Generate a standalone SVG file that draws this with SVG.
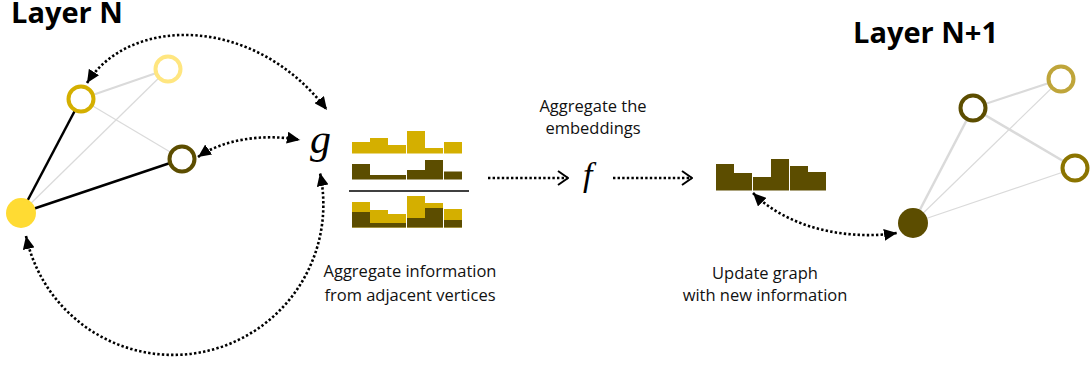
<svg xmlns="http://www.w3.org/2000/svg" width="1091" height="366" viewBox="0 0 1091 366">
<style>
.title{font-family:"Open Sans","DejaVu Sans",sans-serif;font-weight:700;font-size:29px;fill:#000}
.lbl{font-family:"Open Sans","DejaVu Sans",sans-serif;font-size:16.5px;fill:#111;text-anchor:middle}
.math{font-family:"Liberation Serif","DejaVu Serif",serif;font-style:italic;fill:#000}
.dot{fill:none;stroke:#000;stroke-width:2.6;stroke-dasharray:2.4 2.2}
.edgeB{stroke:#000;stroke-width:2.5}
.edgeG{stroke:#dadada;stroke-width:2}
.edgeT{stroke:#dadada;stroke-width:1.2}
.y{fill:#D4AF00}
.d{fill:#5C4D00}
</style>
<defs>
<marker id="tri" viewBox="0 0 13 12" refX="13" refY="6" markerWidth="13" markerHeight="12" markerUnits="userSpaceOnUse" orient="auto-start-reverse">
<path d="M0,0 L13,6 L0,12 z" fill="#000"/>
</marker>
<marker id="chev" viewBox="0 0 12 16" refX="11" refY="8" markerWidth="12" markerHeight="16" markerUnits="userSpaceOnUse" orient="auto">
<path d="M1,1 L11,8 L1,15" fill="none" stroke="#000" stroke-width="2"/>
</marker>
</defs>

<text class="title" x="11" y="23">Layer N</text>
<text class="title" x="853" y="43">Layer N+1</text>

<g id="edges-left">
<line class="edgeB" x1="21" y1="213" x2="81" y2="99"/>
<line class="edgeB" x1="21" y1="213" x2="182" y2="159"/>
<line class="edgeG" x1="81" y1="99" x2="168" y2="69"/>
<line class="edgeT" x1="81" y1="99" x2="182" y2="159"/>
<line class="edgeT" x1="21" y1="213" x2="168" y2="69"/>
</g>
<g id="node-self-N"><circle cx="21" cy="213" r="15" fill="#FFDB33"/></g>
<g id="node-a-N"><circle cx="81" cy="99" r="12.5" fill="#fff" stroke="#D4AF00" stroke-width="4"/></g>
<g id="node-b-N"><circle cx="168" cy="69" r="12.5" fill="#fff" stroke="#FFE680" stroke-width="4"/></g>
<g id="node-c-N"><circle cx="182" cy="159" r="12.5" fill="#fff" stroke="#5C4D00" stroke-width="4"/></g>

<g id="edges-right">
<line class="edgeG" x1="913" y1="223" x2="973" y2="108" style="stroke-width:2.5"/>
<line class="edgeG" x1="973" y1="108" x2="1061" y2="79"/>
<line class="edgeG" x1="973" y1="108" x2="1075" y2="168" style="stroke-width:2.5"/>
<line class="edgeT" x1="913" y1="223" x2="1061" y2="79"/>
<line class="edgeT" x1="913" y1="223" x2="1075" y2="168"/>
</g>
<g id="node-self-N1"><circle cx="913" cy="223" r="15" fill="#5C4D00"/></g>
<g id="node-d-N1"><circle cx="973" cy="108" r="12.5" fill="#fff" stroke="#5C4D00" stroke-width="4"/></g>
<g id="node-e-N1"><circle cx="1061" cy="79" r="12.5" fill="#fff" stroke="#BFA53A" stroke-width="4"/></g>
<g id="node-f-N1"><circle cx="1075" cy="168" r="12.5" fill="#fff" stroke="#8B7400" stroke-width="4"/></g>

<g id="g-func"><text class="math" x="310" y="153" font-size="42">g</text></g>
<g id="f-func"><text class="math" x="583" y="186" font-size="34">f</text></g>

<g id="bars-neighbors">
<rect class="y" x="352" y="142" width="18" height="11.5"/>
<rect class="y" x="370" y="138" width="18" height="15.5"/>
<rect class="y" x="388" y="145" width="18" height="8.5"/>
<rect class="y" x="407" y="131" width="18" height="22.5"/>
<rect class="y" x="425" y="148" width="18" height="5.5"/>
<rect class="y" x="444" y="142" width="18" height="11.5"/>

<rect class="d" x="352" y="164" width="18" height="15.5"/>
<rect class="d" x="370" y="175" width="18" height="4.5"/>
<rect class="d" x="388" y="175" width="18" height="4.5"/>
<rect class="d" x="407" y="170" width="18" height="9.5"/>
<rect class="d" x="425" y="160" width="18" height="19.5"/>
<rect class="d" x="444" y="171.5" width="18" height="8"/>

<line x1="349" y1="191" x2="469" y2="191" stroke="#000" stroke-width="1.5"/>

<rect class="y" x="352" y="202" width="18" height="25.5"/>
<rect class="y" x="370" y="210" width="18" height="17.5"/>
<rect class="y" x="388" y="214" width="18" height="13.5"/>
<rect class="y" x="407" y="196" width="18" height="31.5"/>
<rect class="y" x="425" y="203" width="18" height="24.5"/>
<rect class="y" x="444" y="209" width="18" height="18.5"/>
<rect class="d" x="352" y="212" width="18" height="15.5"/>
<rect class="d" x="370" y="223" width="18" height="4.5"/>
<rect class="d" x="388" y="223" width="18" height="4.5"/>
<rect class="d" x="407" y="218" width="18" height="9.5"/>
<rect class="d" x="425" y="208" width="18" height="19.5"/>
<rect class="d" x="444" y="220" width="18" height="7.5"/>
</g>

<g id="bars-result">
<rect class="d" x="716" y="164" width="18" height="26.5"/>
<rect class="d" x="734" y="173" width="18" height="17.5"/>
<rect class="d" x="753" y="177" width="18" height="13.5"/>
<rect class="d" x="771" y="159" width="18" height="31.5"/>
<rect class="d" x="790" y="166" width="18" height="24.5"/>
<rect class="d" x="808" y="172" width="18" height="18.5"/>
</g>

<g id="connectors">
<path class="dot" d="M87,83 C130,15 255,15 327,110" marker-start="url(#tri)" marker-end="url(#tri)"/>
<path class="dot" d="M198,157 C222,140 262,133 300,140" marker-start="url(#tri)" marker-end="url(#tri)"/>
<path class="dot" d="M26,236 A147 147 0 1 0 320,173" marker-start="url(#tri)" marker-end="url(#tri)"/>
<path class="dot" d="M488,178 L568,178" marker-end="url(#chev)"/>
<path class="dot" d="M613,178 L692,178" marker-end="url(#chev)"/>
<path class="dot" d="M753,193 C790,230 850,240 897,233" marker-start="url(#tri)" marker-end="url(#tri)"/>
</g>

<g id="labels">
<text class="lbl" x="410" y="277">Aggregate information</text>
<text class="lbl" x="410" y="301">from adjacent vertices</text>
<text class="lbl" x="593" y="112">Aggregate the</text>
<text class="lbl" x="593" y="134">embeddings</text>
<text class="lbl" x="765" y="279">Update graph</text>
<text class="lbl" x="765" y="301">with new information</text>
</g>
</svg>
